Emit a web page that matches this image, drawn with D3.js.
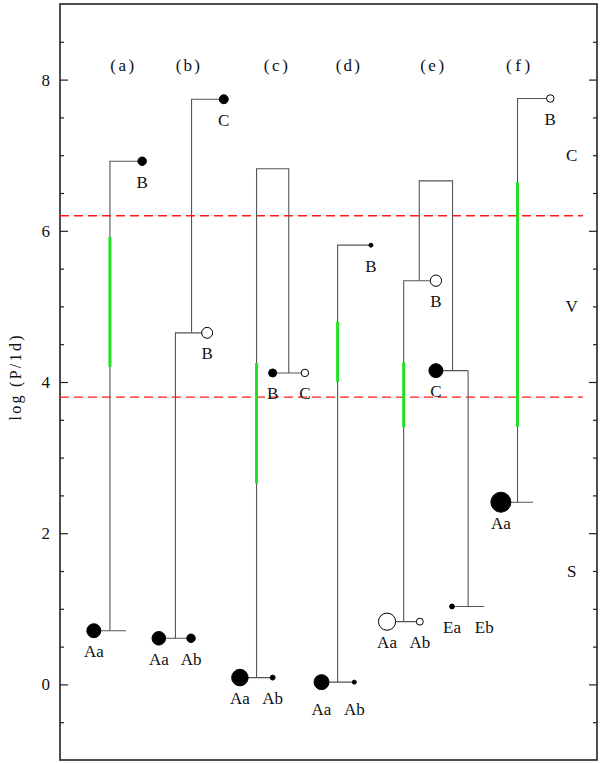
<!DOCTYPE html>
<html>
<head>
<meta charset="utf-8">
<script src="https://cdn.jsdelivr.net/npm/d3@7"></script>
<style>
  html, body { margin: 0; padding: 0; background: #fff; }
  svg { display: block; }
  text { font-family: "Liberation Serif", "DejaVu Serif", serif; fill: #111; }
</style>
</head>
<body>
<svg id="chart" width="600" height="763"></svg>
<script>
// ---------------- data ----------------
const systems = ["(a)", "(b)", "(c)", "(d)", "(e)", "(f)"];
const systemX = [1.16, 2.38, 4.02, 5.36, 6.93, 8.53];       // column position (arbitrary units)
const systemTitleLogP = 8.18;

const yMajorTicks = [0, 2, 4, 6, 8];
const yMinorTicks = [-0.5, 0.5, 1, 1.5, 2.5, 3, 3.5, 4.5, 5, 5.5, 6.5, 7, 7.5, 8.5];

const regimeNames = ["C", "V", "S"];
const regimeLogP = [7.0, 5.0, 1.5];
const regimeX = 9.53;

const limitLogP = [6.2, 3.8];   // red dashed boundaries

// components: system, name, x, logP, symbol kind, relative symbol area
const compSystem = ["a","a","b","b","b","b","c","c","c","c","d","d","d","e","e","e","e","e","e","f","f"];
const compName   = ["Aa","B","Aa","Ab","B","C","Aa","Ab","B","C","Aa","Ab","B","Aa","Ab","B","C","Ea","Eb","Aa","B"];
const compX      = [0.63,1.53,1.84,2.44,2.74,3.05,3.35,3.96,3.96,4.56,4.87,5.48,5.79,6.09,6.70,7.00,7.00,7.30,7.90,8.21,9.13];
const compLogP   = [0.71,6.92,0.61,0.61,4.65,7.74,0.09,0.09,4.12,4.12,0.03,0.03,5.81,0.83,0.83,5.34,4.15,1.03,1.03,2.41,7.75];
const compKind   = ["filled","filled","filled","filled","open","filled","filled","filled","filled","open","filled","filled","filled","open","open","open","filled","filled","none","filled","open"];
const compArea   = [49,18,46,18,30,20,68,6,16,14,56,4,4,74,12,32,49,6,0,100,14];

// orbit connectors (polylines in x units / logP)
const orbitLinks = [
  [[0.63,0.71],[1.23,0.71]],
  [[0.93,0.71],[0.93,6.92],[1.53,6.92]],
  [[1.84,0.61],[2.44,0.61]],
  [[2.15,0.61],[2.15,4.65],[2.74,4.65]],
  [[2.45,4.65],[2.45,7.74],[3.05,7.74]],
  [[3.35,0.09],[3.96,0.09]],
  [[3.66,0.09],[3.66,6.82],[4.26,6.82],[4.26,4.12]],
  [[3.96,4.12],[4.56,4.12]],
  [[4.87,0.03],[5.48,0.03]],
  [[5.17,0.03],[5.17,5.81],[5.79,5.81]],
  [[6.09,0.83],[6.70,0.83]],
  [[6.40,0.83],[6.40,5.34],[7.00,5.34]],
  [[6.69,5.34],[6.69,6.66],[7.31,6.66],[7.31,4.15]],
  [[7.00,4.15],[7.60,4.15]],
  [[7.60,4.15],[7.60,1.03]],
  [[7.30,1.03],[7.90,1.03]],
  [[8.21,2.41],[8.81,2.41]],
  [[8.52,2.41],[8.52,7.75],[9.13,7.75]]
];

// green ranges (predicted period ranges)
const greenX  = [0.93, 3.66, 5.17, 6.40, 8.52];
const greenLo = [4.20, 2.66, 4.00, 3.40, 3.41];
const greenHi = [5.92, 4.25, 4.80, 4.26, 6.64];

// ---------------- layout ----------------
const svg = d3.select("#chart");
const L = 60, R = 597, T = 4, B = 760;

const x = d3.scaleLinear().domain([0, 10]).range([L, R]);
const y = d3.scaleLinear().domain([-1, 9]).range([B, T]);
const r = d3.scaleSqrt().domain([0, 100]).range([0, 10]);

// axes
const gL = svg.append("g").attr("transform", `translate(${L},0)`);
gL.call(d3.axisLeft(y).tickValues(yMajorTicks).tickSize(-8).tickPadding(10).tickFormat(d3.format("d")));
gL.append("g").call(d3.axisLeft(y).tickValues(yMinorTicks).tickSize(-4).tickFormat(""));
const gR = svg.append("g").attr("transform", `translate(${R},0)`);
gR.call(d3.axisRight(y).tickValues(yMajorTicks).tickSize(-8).tickFormat(""));
gR.append("g").call(d3.axisRight(y).tickValues(yMinorTicks).tickSize(-4).tickFormat(""));
svg.selectAll(".domain").remove();
svg.selectAll(".tick line").attr("stroke", "#222").attr("stroke-width", 1.2);
gL.selectAll(".tick text")
  .style("font-family", "'Liberation Serif', 'DejaVu Serif', serif")
  .style("font-size", "17px").attr("fill", "#111");

// frame
svg.append("rect").attr("x", L).attr("y", T).attr("width", R - L).attr("height", B - T)
  .attr("fill", "none").attr("stroke", "#222").attr("stroke-width", 1.6);

// y axis title
svg.append("text")
  .attr("transform", `translate(15,378) rotate(-90)`)
  .attr("text-anchor", "middle").attr("dominant-baseline", "central")
  .attr("textLength", 85).attr("lengthAdjust", "spacing")
  .style("font-size", "16px")
  .text("log (P/1d)");

// red dashed limits
svg.append("g").selectAll("line").data(limitLogP).join("line")
  .attr("x1", L).attr("x2", x(9.74))
  .attr("y1", d => y(d)).attr("y2", d => y(d))
  .attr("stroke", "#ff1a1a").attr("stroke-width", 1.4)
  .attr("stroke-dasharray", "9,5");

// orbit connectors
const line = d3.line().x(d => x(d[0])).y(d => y(d[1]));
svg.append("g").selectAll("path").data(orbitLinks).join("path")
  .attr("d", line).attr("fill", "none")
  .attr("stroke", "#555").attr("stroke-width", 1.1);

// green ranges
svg.append("g").selectAll("line").data(greenX).join("line")
  .attr("x1", d => x(d)).attr("x2", d => x(d))
  .attr("y1", (d, i) => y(greenLo[i])).attr("y2", (d, i) => y(greenHi[i]))
  .attr("stroke", "#22e022").attr("stroke-width", 3);

// components
const comps = compName.map((n, i) => ({
  sys: compSystem[i], name: n, x: compX[i], p: compLogP[i], kind: compKind[i], area: compArea[i]
}));
svg.append("g").selectAll("circle").data(comps.filter(d => d.kind !== "none")).join("circle")
  .attr("cx", d => x(d.x)).attr("cy", d => y(d.p)).attr("r", d => r(d.area))
  .attr("fill", d => d.kind === "filled" ? "#000" : "#fff")
  .attr("stroke", "#000").attr("stroke-width", 1);

// component labels
const labelDrop = d => (d.sys === "d" && d.p < 1) ? 27 : 21;
svg.append("g").selectAll("text").data(comps).join("text")
  .attr("x", d => x(d.x)).attr("y", d => y(d.p) + labelDrop(d))
  .attr("text-anchor", "middle").attr("dominant-baseline", "central")
  .style("font-size", "17px")
  .text(d => d.name);

// system titles
svg.append("g").selectAll("text").data(systems).join("text")
  .attr("x", (d, i) => x(systemX[i])).attr("y", y(systemTitleLogP))
  .attr("text-anchor", "middle").attr("dominant-baseline", "central")
  .attr("textLength", 24).attr("lengthAdjust", "spacing")
  .style("font-size", "17px")
  .text(d => d);

// regime labels
svg.append("g").selectAll("text").data(regimeNames).join("text")
  .attr("x", x(regimeX)).attr("y", (d, i) => y(regimeLogP[i]))
  .attr("text-anchor", "middle").attr("dominant-baseline", "central")
  .style("font-size", "17px")
  .text(d => d);
</script>
</body>
</html>
